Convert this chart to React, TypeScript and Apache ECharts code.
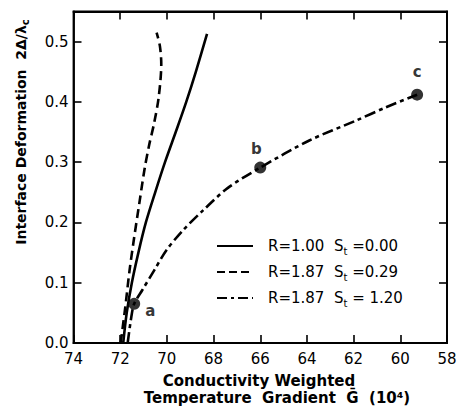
import React, { useEffect, useRef } from "react";
import * as echarts from "echarts";

const FONT = "DejaVu Sans";

// R=1.00 St=0.00 (solid)
const solidX = [71.87, 71.72, 71.5, 71.22, 70.9, 70.5, 70.08, 69.62, 69.17, 68.76, 68.28];
const solidY = [0, 0.05, 0.1, 0.15, 0.2, 0.25, 0.3, 0.35, 0.4, 0.45, 0.513];
// R=1.87 St=0.29 (dashed)
const dashX = [71.98, 71.78, 71.6, 71.42, 71.16, 70.95, 70.75, 70.55, 70.35, 70.24, 70.3, 70.44];
const dashY = [0, 0.06, 0.12, 0.17, 0.237, 0.29, 0.33, 0.364, 0.408, 0.463, 0.493, 0.515];
// R=1.87 St=1.20 (dash-dot)
const dotX = [71.68, 71.52, 71.4, 71.05, 70.55, 70.02, 69.31, 68.45, 67.4, 66.0, 63.9, 61.9, 60.62, 59.28];
const dotY = [0, 0.044, 0.065, 0.088, 0.12, 0.154, 0.187, 0.22, 0.257, 0.291, 0.336, 0.369, 0.391, 0.412];
// labelled points
const markX = [71.4, 66.0, 59.28];
const markY = [0.065, 0.291, 0.412];
const markLabels = ["a", "b", "c"];

const xTicks = [74, 72, 70, 68, 66, 64, 62, 60, 58];
const yTicks = [0.0, 0.1, 0.2, 0.3, 0.4, 0.5];

const legendRows = [
  { r: "1.00", s: "0.00", dash: null as number[] | null },
  { r: "1.87", s: "0.29", dash: [8, 4] },
  { r: "1.87", s: " 1.20", dash: [10, 4, 3, 4] },
];

const zip = (xs: number[], ys: number[]) => xs.map((x, i) => [x, ys[i]]);

export default function App() {
  const ref = useRef<HTMLDivElement>(null);
  useEffect(() => {
    const chart = echarts.init(ref.current!, null, { renderer: "svg" });
    const mkLine = () => ({ show: true, onZero: false, lineStyle: { color: "#000", width: 1.8 } });
    const mkTick = () => ({ show: true, inside: true, length: 8, lineStyle: { color: "#000", width: 1.6 } });
    const labelPos = ["right", "top", "top"];
    const labelOff = [[0, 7], [-4, 0], [0, -4]];

    const graphic: any[] = [];
    legendRows.forEach((row, i) => {
      const y = 246 + i * 26;
      graphic.push({
        type: "line",
        shape: { x1: 217, y1: y, x2: 253, y2: y },
        style: { stroke: "#000", lineWidth: 2, lineDash: row.dash || undefined },
      });
      graphic.push({
        type: "text",
        x: 268,
        y: y,
        style: {
          text: `{n|R=${row.r}  S}{s|t}{n| =${row.s}}`,
          verticalAlign: "middle",
          rich: {
            n: { fontFamily: FONT, fontSize: 15, fill: "#000" },
            s: { fontFamily: FONT, fontSize: 10, fill: "#000", padding: [10, 0, 0, 0] },
          },
        },
      });
    });
    graphic.push({
      type: "text",
      x: 21,
      y: 132,
      rotation: Math.PI / 2,
      style: {
        text: "{b|Interface Deformation  2Δ/λ}{s|c}",
        align: "center",
        verticalAlign: "middle",
        rich: {
          b: { fontFamily: FONT, fontSize: 14, fontWeight: "bold", fill: "#000" },
          s: { fontFamily: FONT, fontSize: 10, fontWeight: "bold", fill: "#000", padding: [8, 0, 0, 0] },
        },
      },
    });
    graphic.push({
      type: "text",
      x: 259,
      y: 381,
      style: {
        text: "Conductivity Weighted",
        align: "center",
        verticalAlign: "middle",
        fontFamily: FONT,
        fontSize: 15,
        fontWeight: "bold",
        fill: "#000",
      },
    });
    graphic.push({
      type: "text",
      x: 277,
      y: 398,
      style: {
        text: "Temperature  Gradient  Ḡ  (10⁴)",
        align: "center",
        verticalAlign: "middle",
        fontFamily: FONT,
        fontSize: 15,
        fontWeight: "bold",
        fill: "#000",
      },
    });

    chart.setOption({
      animation: false,
      backgroundColor: "#fff",
      grid: {
        left: 73.5,
        right: 12,
        top: 11.5,
        bottom: 63,
        containLabel: false,
        outerBoundsMode: "none",
        show: true,
        borderColor: "#000",
        borderWidth: 1.8,
        backgroundColor: "transparent",
      },
      xAxis: [
        {
          type: "value",
          min: xTicks[xTicks.length - 1],
          max: xTicks[0],
          interval: 2,
          inverse: true,
          position: "bottom",
          axisLine: mkLine(),
          axisTick: mkTick(),
          splitLine: { show: false },
          axisLabel: { color: "#000", fontFamily: FONT, fontSize: 15, margin: 8 },
        },
        {
          type: "value",
          min: xTicks[xTicks.length - 1],
          max: xTicks[0],
          interval: 2,
          inverse: true,
          position: "top",
          axisLine: mkLine(),
          axisTick: mkTick(),
          splitLine: { show: false },
          axisLabel: { show: false },
        },
      ],
      yAxis: [
        {
          type: "value",
          min: yTicks[0],
          max: 0.55,
          interval: 0.1,
          position: "left",
          axisLine: mkLine(),
          axisTick: mkTick(),
          splitLine: { show: false },
          axisLabel: {
            color: "#000",
            fontFamily: FONT,
            fontSize: 15,
            margin: 5,
            showMaxLabel: false,
            formatter: (v: number) => (Math.abs(v - 0.55) < 1e-6 ? "" : v.toFixed(1)),
          },
        },
        {
          type: "value",
          min: yTicks[0],
          max: 0.55,
          interval: 0.1,
          position: "right",
          axisLine: mkLine(),
          axisTick: mkTick(),
          splitLine: { show: false },
          axisLabel: { show: false },
        },
      ],
      series: [
        {
          type: "line",
          data: zip(solidX, solidY),
          smooth: 0.3,
          showSymbol: false,
          symbol: "none",
          lineStyle: { color: "#000", width: 2.6 },
        },
        {
          type: "line",
          data: zip(dashX, dashY),
          smooth: 0.3,
          showSymbol: false,
          symbol: "none",
          lineStyle: { color: "#000", width: 2.6, type: [9, 5] },
        },
        {
          type: "line",
          data: zip(dotX, dotY),
          smooth: 0.3,
          showSymbol: false,
          symbol: "none",
          lineStyle: { color: "#000", width: 2.6, type: [11, 4, 4, 4] },
        },
        {
          type: "scatter",
          symbol: "circle",
          symbolSize: 12,
          itemStyle: { color: "#000" },
          data: markX.map((x, i) => ({
            value: [x, markY[i]],
            label: {
              show: true,
              formatter: markLabels[i],
              position: labelPos[i],
              offset: labelOff[i],
              color: "#000",
              fontFamily: FONT,
              fontSize: 15,
              fontWeight: "bold",
            },
          })),
        },
      ],
      graphic,
    });
    return () => chart.dispose();
  }, []);
  return (
    <div
      ref={ref}
      style={{ position: "fixed", left: 0, top: 0, width: 459, height: 406, background: "#fff" }}
    />
  );
}
